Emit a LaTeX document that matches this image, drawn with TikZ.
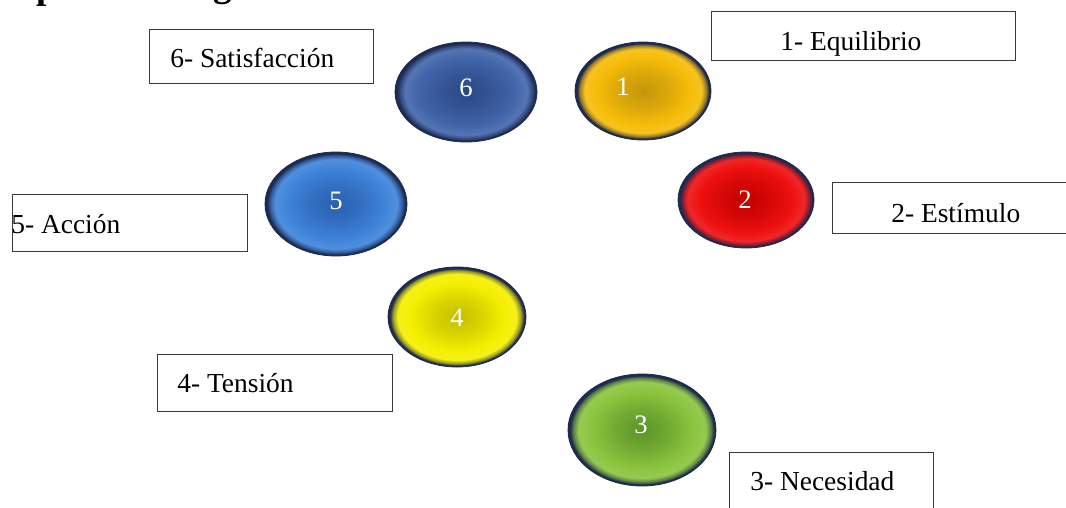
\documentclass[tikz,border=0pt]{standalone}
\usepackage{fontspec}
\setmainfont{Liberation Serif}
\usetikzlibrary{shapes.geometric}

% colours of the shaded buttons
\colorlet{btnedge}{rgb,255:red,30;green,42;blue,78}
\colorlet{btnin}{black}
\colorlet{btnout}{black}
% radial bevel: darker centre, lighter rim, dark navy edge
% (the shape outline sits at 25bp of the shading)
\pgfdeclareradialshading[btnin,btnout]{btn}{\pgfpoint{0bp}{0bp}}{%
  color(0bp)=(btnin);
  color(9bp)=(btnin!55!btnout);
  color(17bp)=(btnout);
  color(21.5bp)=(btnout!90!white);
  color(23.3bp)=(btnout!55!btnedge);
  color(24.3bp)=(btnedge);
  color(25bp)=(btnedge);
  color(50bp)=(btnedge)}

\definecolor{c1out}{HTML}{F6BC08}\definecolor{c1in}{HTML}{C4960C}
\definecolor{c2out}{HTML}{EE1010}\definecolor{c2in}{HTML}{C20000}
\definecolor{c3out}{HTML}{8AC43E}\definecolor{c3in}{HTML}{5C9428}
\definecolor{c4out}{HTML}{F4EF00}\definecolor{c4in}{HTML}{C4BE00}
\definecolor{c5out}{HTML}{3E83DA}\definecolor{c5in}{HTML}{2B5FAE}
\definecolor{c6out}{HTML}{4265AA}\definecolor{c6in}{HTML}{2A4886}
\definecolor{boxline}{HTML}{3A3A3A}

\tikzset{
  button/.style n args={4}{ellipse, inner sep=0pt,
    minimum width=#3, minimum height=#4,
    /utils/exec={\colorlet{btnin}{#1}\colorlet{btnout}{#2}},
    shading=btn, draw=btnedge, line width=0.6pt},
  num/.style={inner sep=0pt, text=white, font=\fontsize{20}{24}\selectfont},
  labelbox/.style={draw=boxline, line width=0.9pt, fill=white, anchor=north west,
    inner sep=0pt},
  labeltext/.style={inner sep=0pt, anchor=base west,
    font=\fontsize{20.6}{24}\selectfont},
  headtext/.style={inner sep=0pt, anchor=base west,
    font=\fontsize{28}{32}\selectfont\bfseries}
}

\begin{document}
\begin{tikzpicture}[x=0.75pt, y=-0.75pt]
\useasboundingbox (0,0) rectangle (1066,507);
\clip (0,0) rectangle (1066,507);

% heading line, cut by the top edge
\node[headtext] (hp) at (36,-2) {p};
\node[headtext] (hg) at (213,-4) {g};

% the six stages
\node[button={c6in}{c6out}{106.5pt}{75pt}]   (e6) at (466,92)  {};
\node[button={c1in}{c1out}{102pt}{73.5pt}]   (e1) at (643,91)  {};
\node[button={c2in}{c2out}{102pt}{72pt}]     (e2) at (746,200) {};
\node[button={c5in}{c5out}{106.5pt}{78pt}]   (e5) at (336,204) {};
\node[button={c4in}{c4out}{103.5pt}{75pt}]   (e4) at (457,317) {};
\node[button={c3in}{c3out}{111pt}{84pt}]     (e3) at (642,430) {};

\node[num] (n6) at (466,88)  {6};
\node[num] (n1) at (623,87)  {1};
\node[num] (n2) at (745,200) {2};
\node[num] (n5) at (336,201) {5};
\node[num] (n4) at (457,318) {4};
\node[num] (n3) at (641,425) {3};

% captions
\node[labelbox, minimum width=168pt, minimum height=40.5pt] (b6) at (149,29)  {};
\node[labelbox, minimum width=228pt, minimum height=36.75pt] (b1) at (711,11) {};
\node[labelbox, minimum width=186pt, minimum height=38.25pt] (b2) at (832,182) {};
\node[labelbox, minimum width=176.25pt, minimum height=42.75pt] (b5) at (12,194) {};
\node[labelbox, minimum width=176.25pt, minimum height=42.75pt] (b4) at (157,354) {};
\node[labelbox, minimum width=153pt, minimum height=51pt] (b3) at (729,452) {};

\node[labeltext] (t6) at (170,67)  {6- Satisfacción};
\node[labeltext] (t1) at (780,50)  {1- Equilibrio};
\node[labeltext] (t2) at (891,222) {2- Estímulo};
\node[labeltext] (t5) at (11,233)  {5- Acción};
\node[labeltext] (t4) at (177,392) {4- Tensión};
\node[labeltext] (t3) at (750,490) {3- Necesidad};
\end{tikzpicture}
\end{document}
